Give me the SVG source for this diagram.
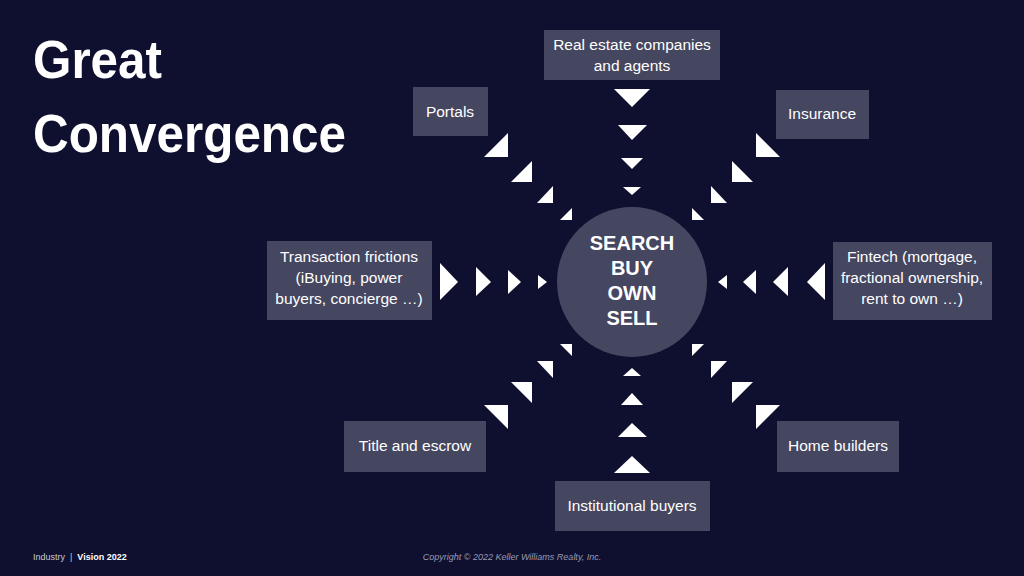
<svg xmlns="http://www.w3.org/2000/svg" width="1024" height="576" viewBox="0 0 1024 576">
<style>
.box{fill:#45465f}
.t{font-family:"Liberation Sans",Arial,sans-serif;font-size:15.5px;fill:#fff;text-anchor:middle}
.c{font-family:"Liberation Sans",Arial,sans-serif;font-size:20px;font-weight:bold;fill:#fff;text-anchor:middle}
.h{font-family:"Liberation Sans",Arial,sans-serif;font-size:54px;font-weight:bold;fill:#fff}
.a{fill:#fff}
</style>
<rect width="1024" height="576" fill="#0f1030"/>
<text class="h" x="33" y="78" textLength="129" lengthAdjust="spacingAndGlyphs">Great</text>
<text class="h" x="33" y="152" textLength="313" lengthAdjust="spacingAndGlyphs">Convergence</text>
<g id="center"><circle cx="632" cy="282" r="75" fill="#45465f"/>
<text class="c" x="632" y="250">SEARCH</text><text class="c" x="632" y="275">BUY</text><text class="c" x="632" y="300">OWN</text><text class="c" x="632" y="325">SELL</text></g>
<g id="n-realestate"><rect class="box" x="544" y="30" width="176" height="50"/><text class="t" x="632" y="50">Real estate companies</text><text class="t" x="632" y="71">and agents</text></g>
<g id="n-portals"><rect class="box" x="413" y="87" width="75" height="49"/><text class="t" x="450" y="117">Portals</text></g>
<g id="n-insurance"><rect class="box" x="776" y="90" width="93" height="49"/><text class="t" x="822" y="119">Insurance</text></g>
<g id="n-transaction"><rect class="box" x="267" y="241" width="165" height="79"/><text class="t" x="349" y="262">Transaction frictions</text><text class="t" x="349" y="283">(iBuying, power</text><text class="t" x="349" y="304">buyers, concierge …)</text></g>
<g id="n-fintech"><rect class="box" x="833" y="242" width="159" height="78"/><text class="t" x="912" y="262">Fintech (mortgage,</text><text class="t" x="912" y="283">fractional ownership,</text><text class="t" x="912" y="304">rent to own …)</text></g>
<g id="n-title"><rect class="box" x="344" y="421" width="142" height="51"/><text class="t" x="415" y="451">Title and escrow</text></g>
<g id="n-home"><rect class="box" x="777" y="421" width="122" height="51"/><text class="t" x="838" y="451">Home builders</text></g>
<g id="n-inst"><rect class="box" x="555" y="481" width="155" height="50"/><text class="t" x="632" y="511">Institutional buyers</text></g>
<g id="connectors" class="a">
<polygon points="614,89 650,89 632,107"/><polygon points="618,125 647,125 632,140"/><polygon points="621,158 643,158 632,169"/><polygon points="623,187 641,187 632,195"/>
<polygon points="614,473 650,473 632,456"/><polygon points="618,437 647,437 632,423"/><polygon points="621,405 643,405 632,393"/><polygon points="623,376 641,376 632,368"/>
<polygon points="440,263 440,300 458,282"/><polygon points="476,267 476,296 491,282"/><polygon points="508,270 508,294 521,282"/><polygon points="538,275 538,289 547,282"/>
<polygon points="825,263 825,300 807,282"/><polygon points="788,267 788,296 773,282"/><polygon points="756,270 756,294 743,282"/><polygon points="727,275 727,289 718,282"/>
<polygon points="508,133 508,157 484,157"/><polygon points="532,161 532,182 511,182"/><polygon points="553,186 553,203 537,203"/><polygon points="572,208 572,220 560,220"/>
<polygon points="756,133 756,157 780,157"/><polygon points="732,161 732,182 753,182"/><polygon points="711,186 711,203 727,203"/><polygon points="692,208 692,220 704,220"/>
<polygon points="484,405 508,405 508,429"/><polygon points="511,382 532,382 532,403"/><polygon points="537,361 553,361 553,378"/><polygon points="560,344 572,344 572,356"/>
<polygon points="780,405 756,405 756,429"/><polygon points="753,382 732,382 732,403"/><polygon points="727,361 711,361 711,378"/><polygon points="704,344 692,344 692,356"/>
</g>
<text x="33" y="560" font-family="Liberation Sans,Arial,sans-serif" font-size="9" fill="#c8c8d4" xml:space="preserve">Industry  |  <tspan font-weight="bold" fill="#fff">Vision 2022</tspan></text>
<text x="512" y="560" font-family="Liberation Sans,Arial,sans-serif" font-size="9" font-style="italic" fill="#9a9ab0" text-anchor="middle">Copyright © 2022 Keller Williams Realty, Inc.</text>
</svg>
